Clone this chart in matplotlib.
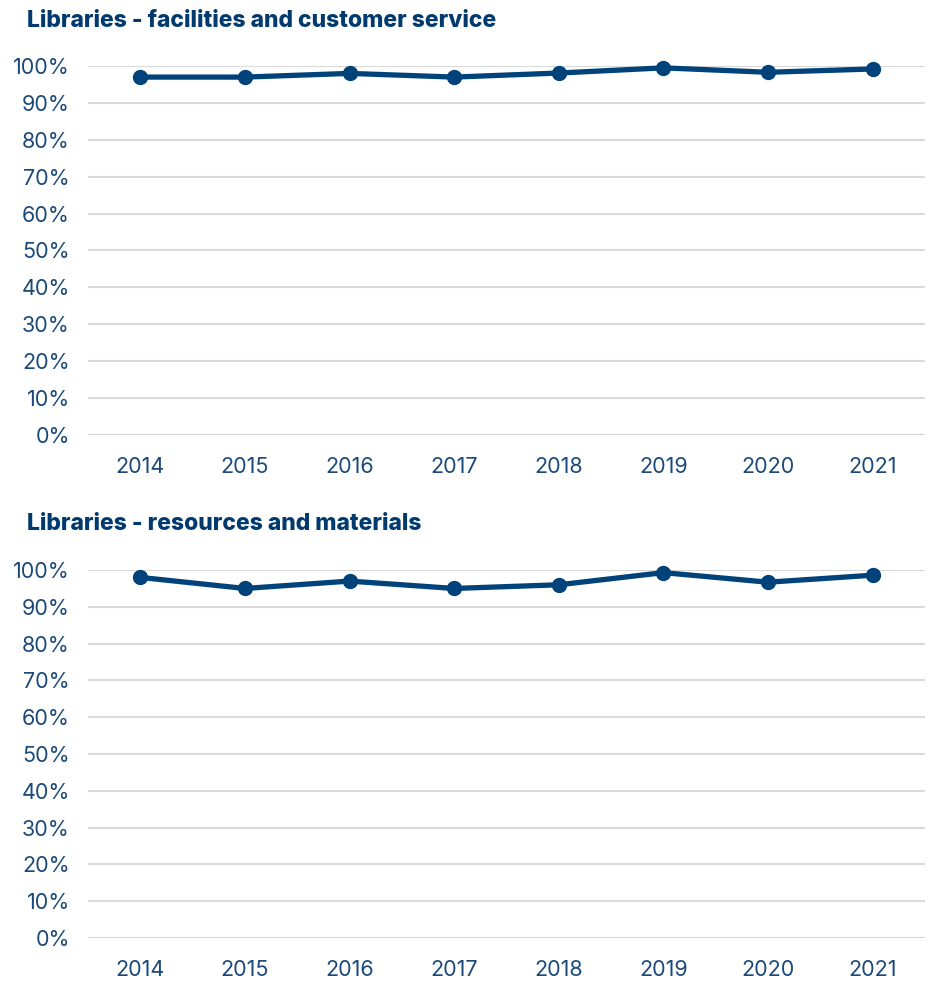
import matplotlib
matplotlib.use("Agg")
import matplotlib.pyplot as plt

plt.rcParams['font.family'] = ['Inter', 'DejaVu Sans']

# data
years = ["2014", "2015", "2016", "2017", "2018", "2019", "2020", "2021"]
facilities = [97.0, 97.0, 98.0, 97.0, 98.1, 99.5, 98.3, 99.2]
resources = [98.0, 95.0, 97.0, 95.0, 96.0, 99.3, 96.7, 98.6]
yticks = [0, 10, 20, 30, 40, 50, 60, 70, 80, 90, 100]

titles = ["Libraries - facilities and customer service",
          "Libraries - resources and materials"]

navy = "#00427a"
title_col = "#003a6e"
text_col = "#1b4a7a"
grid_col = "#d9d9d9"

fig = plt.figure(figsize=(9.3, 9.81), dpi=100)

ax1 = fig.add_axes([0.0946, 0.5566, 0.9, 0.3761])
ax2 = fig.add_axes([0.0946, 0.0438, 0.9, 0.3751])

for ax, vals, title, ty in [(ax1, facilities, titles[0], 0.979),
                            (ax2, resources, titles[1], 0.466)]:
    x = range(len(years))
    ax.plot(x, vals, color=navy, lw=3.8, marker="o", markersize=10,
            clip_on=False, zorder=3)
    ax.set_xlim(-0.5, len(years) - 0.5)
    ax.set_ylim(0, 100)
    ax.set_yticks(yticks)
    ax.set_yticklabels([f"{t}%" for t in yticks])
    ax.set_xticks(list(x))
    ax.set_xticklabels(years)
    ax.grid(axis="y", color=grid_col, lw=1.5)
    ax.set_axisbelow(True)
    for s in ax.spines.values():
        s.set_visible(False)
    ax.tick_params(length=0, labelsize=15.5, colors=text_col)
    ax.tick_params(axis="y", pad=13)
    ax.tick_params(axis="x", pad=16)
    fig.text(0.029, ty, title, fontsize=16.5, fontweight="heavy",
             color=title_col, va="center", ha="left")

fig.savefig("out.png", dpi=100)
